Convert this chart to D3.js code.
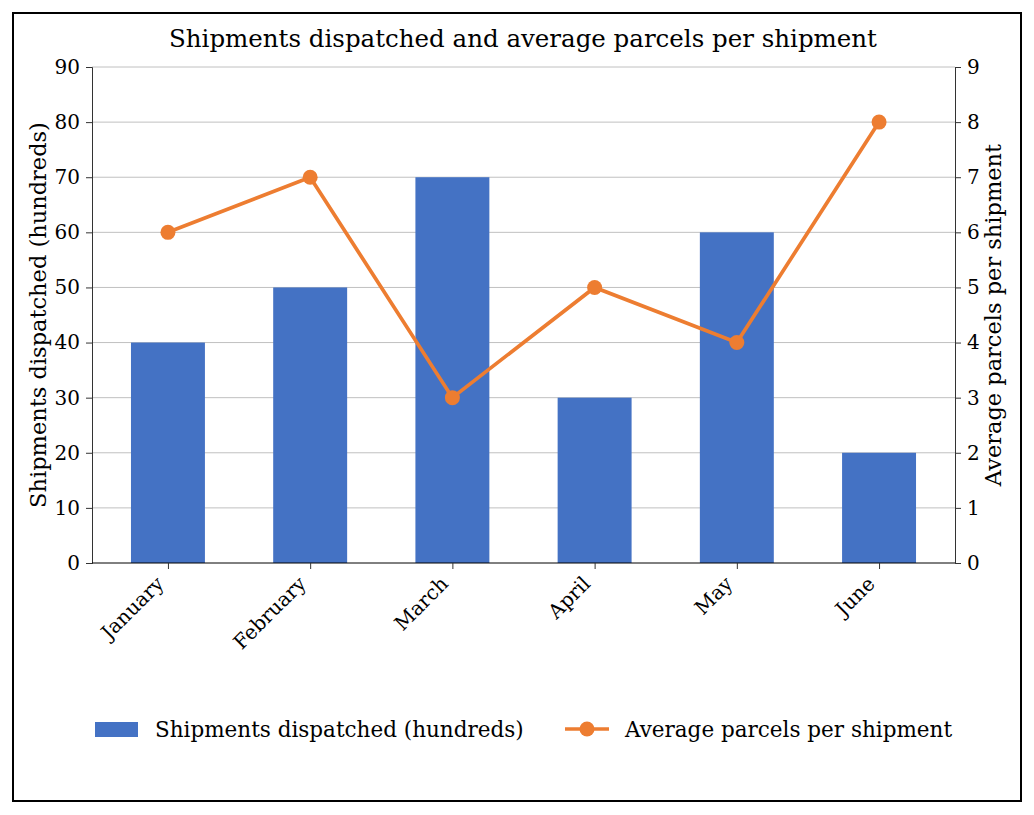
<!DOCTYPE html>
<html><head><meta charset="utf-8">
<script src="https://cdn.jsdelivr.net/npm/d3@7"></script>
<style>body{margin:0;background:#fff}svg{display:block}text{font-family:"DejaVu Serif",serif;fill:#000}</style>
</head><body><svg id="c" width="1034" height="815"></svg>
<script>
const months = ["January","February","March","April","May","June"];
const shipments = [40,50,70,30,60,20];
const parcels = [6,7,3,5,4,8];
const leftTicks = [0,10,20,30,40,50,60,70,80,90];
const rightTicks = [0,1,2,3,4,5,6,7,8,9];

const svg = d3.select("#c");
const L=92,R=955,T=67,B=563;
svg.append("rect").attr("x",13).attr("y",13).attr("width",1008).attr("height",788)
  .attr("fill","#fff").attr("stroke","#000").attr("stroke-width",2);

const x = d3.scalePoint().domain(months).range([L,R]).padding(0.534);
const bw = x.step()*0.52;
const yL = d3.scaleLinear().domain([0,90]).range([B,T]);
const yR = d3.scaleLinear().domain([0,9]).range([B,T]);

// grid
svg.append("g").selectAll("line").data(leftTicks.slice(1)).join("line")
  .attr("x1",L).attr("x2",R).attr("y1",d=>yL(d)).attr("y2",d=>yL(d))
  .attr("stroke","#c0c0c0").attr("stroke-width",1);

// bars
svg.append("g").selectAll("rect").data(shipments).join("rect")
  .attr("x",(d,i)=>x(months[i])-bw/2).attr("width",bw)
  .attr("y",d=>yL(d)).attr("height",d=>B-yL(d)).attr("fill","#4472C4");

// axes
const gL = svg.append("g").attr("transform",`translate(${L},0)`)
  .call(d3.axisLeft(yL).tickValues(leftTicks).tickSize(6).tickPadding(6));
const gR = svg.append("g").attr("transform",`translate(${R},0)`)
  .call(d3.axisRight(yR).tickValues(rightTicks).tickSize(6).tickPadding(6));
const gX = svg.append("g").attr("transform",`translate(0,${B})`)
  .call(d3.axisBottom(x).tickSize(6).tickPadding(4));
[gL,gR,gX].forEach(g=>{
  g.selectAll("path.domain").attr("stroke","#333");
  g.selectAll(".tick line").attr("stroke","#333");
  g.selectAll("text").style("font-family","DejaVu Serif").style("font-size","20px").attr("fill","#000");
});
gX.select("path.domain").attr("d",`M${L},0H${R}`).attr("stroke","#000");
gX.selectAll(".tick text").attr("text-anchor","end").attr("x",0).attr("y",0).attr("dy",0)
  .attr("transform","translate(-3.5,22) rotate(-45)");

// line
const line = d3.line().x((d,i)=>x(months[i])).y(d=>yR(d));
svg.append("path").datum(parcels).attr("d",line).attr("fill","none")
  .attr("stroke","#ED7D31").attr("stroke-width",3.7);
svg.append("g").selectAll("circle").data(parcels).join("circle")
  .attr("cx",(d,i)=>x(months[i])).attr("cy",d=>yR(d)).attr("r",7.5).attr("fill","#ED7D31");

// titles
svg.append("text").attr("x",523).attr("y",47).attr("text-anchor","middle")
  .style("font-size","24.5px").text("Shipments dispatched and average parcels per shipment");
svg.append("text").attr("transform","translate(46,315) rotate(-90)").attr("text-anchor","middle")
  .style("font-size","22.5px").text("Shipments dispatched (hundreds)");
svg.append("text").attr("transform","translate(1001,315) rotate(-90)").attr("text-anchor","middle")
  .style("font-size","22.5px").text("Average parcels per shipment");

// legend
svg.append("rect").attr("x",95).attr("y",722).attr("width",43).attr("height",15).attr("fill","#4472C4");
svg.append("text").attr("x",155).attr("y",737).style("font-size","21.5px").text("Shipments dispatched (hundreds)");
svg.append("line").attr("x1",565).attr("x2",609).attr("y1",729).attr("y2",729).attr("stroke","#ED7D31").attr("stroke-width",3.7);
svg.append("circle").attr("cx",587).attr("cy",729).attr("r",7.5).attr("fill","#ED7D31");
svg.append("text").attr("x",625).attr("y",737).style("font-size","21.5px").text("Average parcels per shipment");
</script></body></html>
